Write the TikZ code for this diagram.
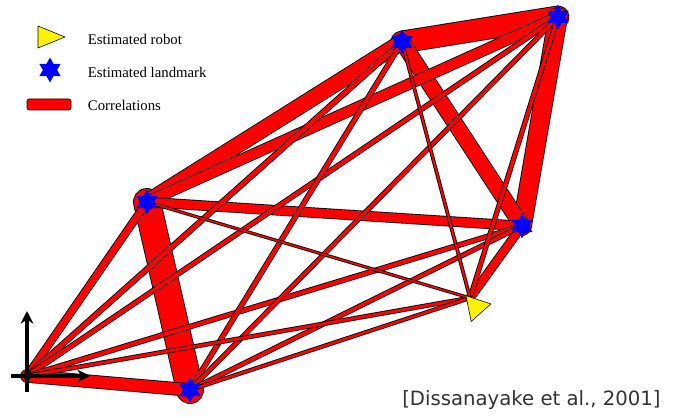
\documentclass[tikz,border=0pt]{standalone}
\usepackage{fontspec}
\setmainfont{Liberation Serif}
\newfontfamily\citefont{DejaVu Sans}
\usetikzlibrary{shapes.geometric,arrows.meta,backgrounds}

\begin{document}
\begin{tikzpicture}[
    x=0.025cm, y=-0.025cm,
    corr/.style={draw=black, line width=0.62pt, double=red, double distance=#1, line cap=round},
    landmark/.style={star, star points=6, star point ratio=1.75, fill=blue, inner sep=0pt, minimum size=0.62cm},
    robot/.style={regular polygon, regular polygon sides=3, draw=black, thin, fill=yellow, inner sep=0pt, minimum size=0.76cm},
    frame/.style={draw, line width=2.3pt, -{Stealth[length=9pt, width=9pt]}},
    legend/.style={anchor=west, font=\fontsize{10.5}{12}\selectfont}
]
  \useasboundingbox (0,0) rectangle (673,418);

  % --- world frame --------------------------------------------------------
  \coordinate (O) at (27,376);
  \coordinate (xtail) at (11,376);
  \coordinate (xtip) at (90,376);
  \coordinate (ytail) at (27,392);
  \coordinate (ytip) at (27,311);

  % --- estimated landmarks and robot -------------------------------------
  \node[landmark] (lmA) at (147,202) {};
  \node[landmark] (lmB) at (190,390) {};
  \node[landmark] (lmC) at (402,42) {};
  \node[landmark] (lmD) at (558,17) {};
  \node[landmark] (lmE) at (522,226) {};
  \coordinate (R) at (470,298);
  \node[robot, rotate=-78.5] (rob) at (476,307) {};

  % --- correlations, thickest first --------------------------------------
  \begin{pgfonlayer}{background}
    \draw[corr=18.6pt] (lmA.center) -- (lmB.center);
    \draw[corr=15pt]   (lmC.center) -- (lmD.center);
    \draw[corr=12.8pt] (lmD.center) -- (lmE.center);
    \draw[corr=10.6pt] (lmA.center) -- (lmC.center);
    \draw[corr=10.4pt] (lmC.center) -- (lmE.center);
    \draw[corr=8.4pt]  (O) -- (lmB.center);
    \draw[corr=7pt]    (lmA.center) -- (lmD.center);
    \draw[corr=6.2pt]  (lmA.center) -- (lmE.center);
    \draw[corr=5.4pt]  (lmE.center) -- (R);
    \draw[corr=4.7pt]  (O) -- (lmA.center);
    \draw[corr=3.2pt]  (O) -- (lmC.center);
    \draw[corr=2.8pt]  (O) -- (lmD.center);
    \draw[corr=2.8pt]  (O) -- (lmE.center);
    \draw[corr=2.8pt]  (lmB.center) -- (lmC.center);
    \draw[corr=2.5pt]  (lmB.center) -- (lmD.center);
    \draw[corr=2.5pt]  (lmB.center) -- (lmE.center);
    \draw[corr=2.5pt]  (lmD.center) -- (R);
    \draw[corr=2.1pt]  (O) -- (R);
    \draw[corr=1.8pt]  (lmB.center) -- (R);
    \draw[corr=1.4pt]  (lmC.center) -- (R);
    \draw[corr=1.1pt]  (lmA.center) -- (R);
  \end{pgfonlayer}

  \draw[frame] (ytail) -- (ytip);
  \draw[frame] (xtail) -- (xtip);

  % --- legend ---------------------------------------------------------------
  \filldraw[fill=yellow, draw=black, thin] (38,26) -- (65,37) -- (38,48) -- cycle;
  \node[landmark] (keystar) at (50,70) {};
  \draw[fill=red, rounded corners=1.5pt] (27,99) rectangle (71,110);
  \node[legend] (keyrob) at (83,39) {Estimated robot};
  \node[legend] (keylm) at (83,72) {Estimated landmark};
  \node[legend] (keycorr) at (83,105) {Correlations};

  \node[anchor=base west, text=black!80, font=\citefont\fontsize{14}{16}\selectfont, inner sep=0pt]
    (cite) at (402,406) {[Dissanayake et al., 2001]};
\end{tikzpicture}
\end{document}
